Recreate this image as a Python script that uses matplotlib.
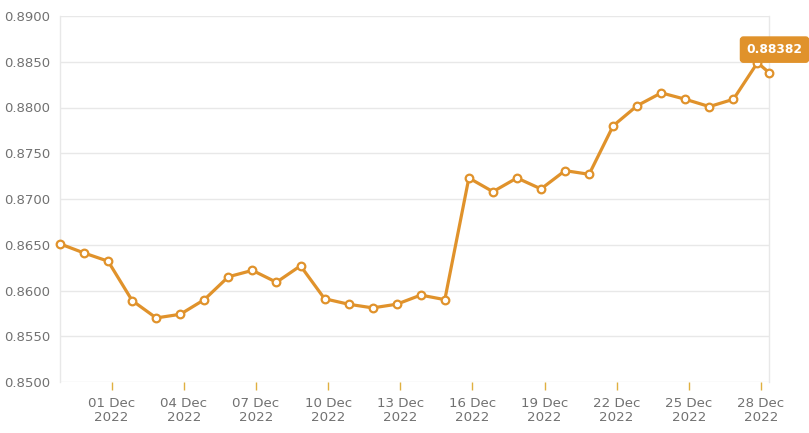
import matplotlib
matplotlib.use("Agg")
import matplotlib.pyplot as plt
import pandas as pd

dates = ["2022-11-28 20:30", "2022-11-29 20:30", "2022-11-30 20:30", "2022-12-01 20:30",
         "2022-12-02 20:30", "2022-12-03 20:30", "2022-12-04 20:30", "2022-12-05 20:30",
         "2022-12-06 20:30", "2022-12-07 20:30", "2022-12-08 20:30", "2022-12-09 20:30",
         "2022-12-10 20:30", "2022-12-11 20:30", "2022-12-12 20:30", "2022-12-13 20:30",
         "2022-12-14 20:30", "2022-12-15 20:30", "2022-12-16 20:30", "2022-12-17 20:30",
         "2022-12-18 20:30", "2022-12-19 20:30", "2022-12-20 20:30", "2022-12-21 20:30",
         "2022-12-22 20:30", "2022-12-23 20:30", "2022-12-24 20:30", "2022-12-25 20:30",
         "2022-12-26 20:30", "2022-12-27 20:30", "2022-12-28 08:00"]
values = [0.8651, 0.8641, 0.8632, 0.8589, 0.8570, 0.8574, 0.8590, 0.8615, 0.8622, 0.8609,
          0.8627, 0.8591, 0.8585, 0.8581, 0.8585, 0.8595, 0.8590, 0.8723, 0.8708, 0.8723,
          0.8711, 0.8731, 0.8727, 0.8780, 0.8802, 0.8816, 0.8809, 0.8801, 0.8809, 0.8849,
          0.88382]
tick_dates = ["2022-12-01", "2022-12-04", "2022-12-07", "2022-12-10", "2022-12-13",
              "2022-12-16", "2022-12-19", "2022-12-22", "2022-12-25", "2022-12-28"]
tick_labels = ["01 Dec\n2022", "04 Dec\n2022", "07 Dec\n2022", "10 Dec\n2022", "13 Dec\n2022",
               "16 Dec\n2022", "19 Dec\n2022", "22 Dec\n2022", "25 Dec\n2022", "28 Dec\n2022"]
y_ticks = [0.85, 0.855, 0.86, 0.865, 0.87, 0.875, 0.88, 0.885, 0.89]
label_text = "0.88382"

x = pd.to_datetime(dates)
xt = pd.to_datetime(tick_dates)

ORANGE = "#E0922B"
GRID = "#E8E8E8"
TXT = "#717171"

plt.rcParams['font.family'] = ['DejaVu Sans']
fig = plt.figure(figsize=(8.09, 4.33), dpi=100)
W, H = 809, 433
ax = fig.add_axes([60 / W, 1 - 382 / H, (769 - 60) / W, (382 - 16) / H])

ax.plot(x, values, color=ORANGE, lw=2.3, marker="o", ms=5.5, mfc="white",
        mec=ORANGE, mew=1.6, clip_on=False, zorder=3)

ax.set_xlim(x[0], x[-1])
ax.set_ylim(0.85, 0.89)
ax.set_yticks(y_ticks)
ax.set_yticklabels([f"{v:.4f}" for v in y_ticks])
ax.set_xticks(xt)
ax.set_xticklabels(tick_labels, linespacing=1.05)

ax.grid(axis="y", color=GRID, lw=1)
ax.set_axisbelow(True)
for s in ["top", "bottom"]:
    ax.spines[s].set_visible(False)
for s in ["left", "right"]:
    ax.spines[s].set_color(GRID)
    ax.spines[s].set_linewidth(1)

ax.tick_params(axis="y", length=0, pad=7, labelsize=9.5, labelcolor=TXT)
ax.tick_params(axis="x", length=6, width=1, color="#E0B040", pad=5,
               labelsize=9.6, labelcolor=TXT, direction="out")

ax.annotate(label_text, xy=(x[-2], values[-2]), xytext=(12.3, 9.4),
            textcoords="offset points", ha="center", va="center",
            fontsize=8.8, fontweight="bold", color="white",
            bbox=dict(boxstyle="round,pad=0.5,rounding_size=0.25", fc=ORANGE, ec=ORANGE),
            zorder=5, annotation_clip=False)

fig.savefig("out.png", dpi=100)
